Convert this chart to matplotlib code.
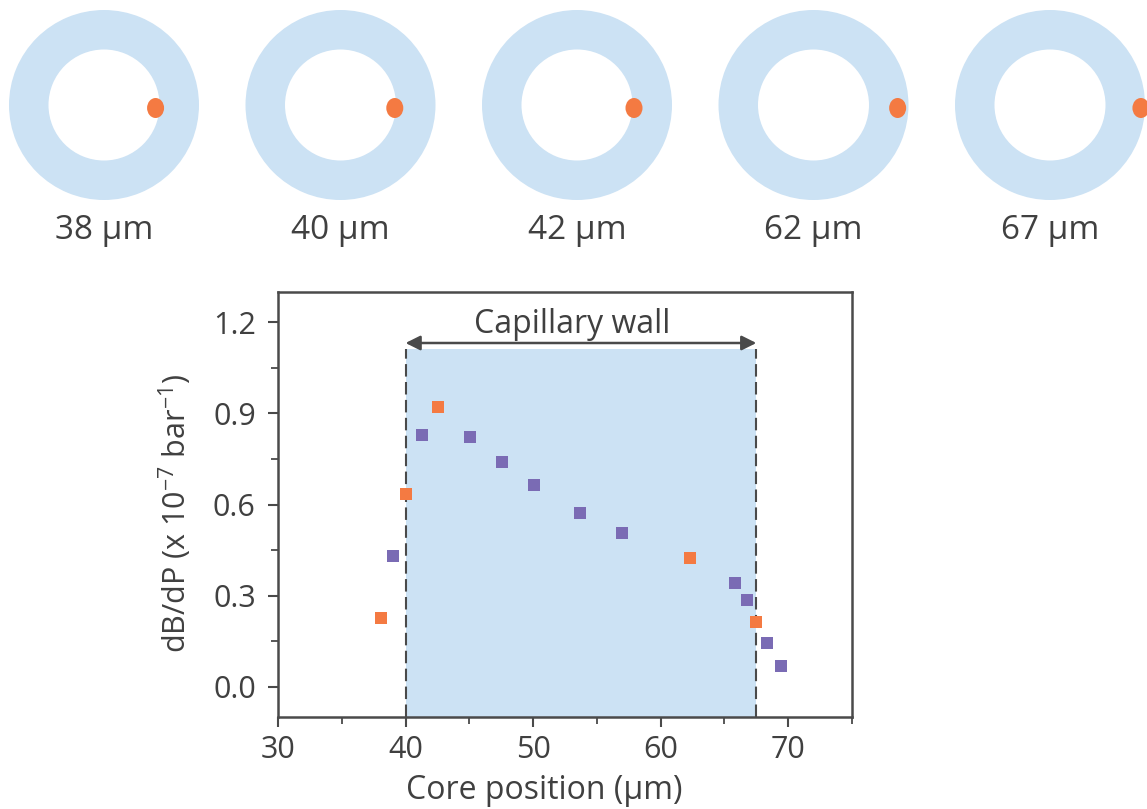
import matplotlib
matplotlib.use("Agg")
import matplotlib.pyplot as plt
from matplotlib.patches import Ellipse, Wedge
from matplotlib.ticker import MultipleLocator

plt.rcParams['font.family'] = ['Open Sans', 'DejaVu Sans']
plt.rcParams['mathtext.fontset'] = 'custom'
plt.rcParams['mathtext.rm'] = 'Open Sans'

# ---------------- data ----------------
diagram_positions = [38, 40, 42, 62, 67]          # core positions shown in top diagrams (µm)
diagram_labels = ["38 µm", "40 µm", "42 µm", "62 µm", "67 µm"]

orange_x = [38.1, 40.05, 42.55, 62.3, 67.5]
orange_y = [0.226, 0.634, 0.920, 0.423, 0.212]

purple_x = [39.0, 41.3, 45.05, 47.6, 50.1, 53.7, 56.95, 65.85, 66.8, 68.35, 69.45]
purple_y = [0.430, 0.829, 0.824, 0.739, 0.664, 0.573, 0.505, 0.340, 0.285, 0.144, 0.067]

wall_start, wall_end = 40.0, 67.5
xticks = [30, 40, 50, 60, 70]
yticks = [0.0, 0.3, 0.6, 0.9, 1.2]

# ---------------- style ----------------
ORANGE = '#F47A42'
PURPLE = '#7A6BB4'
LIGHTBLUE = '#CCE2F4'
DARK = '#4A4A4A'
TEXT = '#404040'

W, H = 1147, 809
fig = plt.figure(figsize=(W / 100, H / 100), dpi=100)

# ---------------- main scatter axes ----------------
ax = fig.add_axes([278 / W, (H - 717) / H, (852 - 278) / W, (717 - 292) / H])
ax.set_xlim(30, 75)
ax.set_ylim(-0.1, 1.3)

shade_top = 1.112
ax.fill_between([wall_start, wall_end], -0.1, shade_top, color=LIGHTBLUE, lw=0, zorder=1)
ax.vlines([wall_start, wall_end], -0.1, shade_top, colors=DARK, linestyles=(0, (6, 2.6)),
          lw=1.5, zorder=2)

ax.annotate('', xy=(wall_start, 1.132), xytext=(wall_end, 1.132),
            arrowprops=dict(arrowstyle='<|-|>', color=DARK, lw=1.8, mutation_scale=22,
                            shrinkA=0, shrinkB=0), zorder=3)
ax.text((wall_start + wall_end) / 2 - 0.7, 1.165, 'Capillary wall', ha='center',
        va='baseline', fontsize=23, color=TEXT)

ax.scatter(orange_x, orange_y, marker='s', s=72, color=ORANGE, linewidths=0, zorder=4)
ax.scatter(purple_x, purple_y, marker='s', s=72, color=PURPLE, linewidths=0, zorder=4)

ax.set_xticks(xticks)
ax.set_yticks(yticks)
ax.set_yticklabels([f"{v:.1f}" for v in yticks])
ax.xaxis.set_minor_locator(MultipleLocator(5))
ax.yaxis.set_minor_locator(MultipleLocator(0.15))
ax.tick_params(which='major', direction='out', length=7, width=1.5, color=DARK,
               labelsize=22, labelcolor=TEXT, pad=6)
ax.tick_params(which='minor', direction='out', length=5, width=1.3, color=DARK)
ax.tick_params(axis='y', which='major', pad=9)
for sp in ax.spines.values():
    sp.set_color(DARK)
    sp.set_linewidth(1.8)

ax.set_xlabel('Core position (µm)', fontsize=23, color=TEXT)
ax.xaxis.set_label_coords((544 - 278) / 574, -0.172)
ax.xaxis.label.set_verticalalignment('center')
ax.set_ylabel(r'dB/dP (x 10$^{\mathregular{-7}}$ bar$^{\mathregular{-1}}$)', fontsize=22, color=TEXT)
ax.yaxis.set_label_coords((175 - 278) / 574, (717 - 513) / 425)
ax.yaxis.label.set_verticalalignment('center')

# ---------------- top diagrams (pixel-coordinate overlay) ----------------
axd = fig.add_axes([0, 0, 1, 1])
axd.set_xlim(0, W)
axd.set_ylim(H, 0)
axd.axis('off')
axd.patch.set_visible(False)

R_OUT, R_IN = 95, 55.5
OUTER_UM = 70.0                 # radius in µm represented by the outer edge
first_cx, step, cy = 104, 236.5, 105
for i, (pos, lab) in enumerate(zip(diagram_positions, diagram_labels)):
    cx = first_cx + i * step
    axd.add_patch(Wedge((cx, cy), R_OUT, 0, 360, width=R_OUT - R_IN, color=LIGHTBLUE, lw=0))
    r_dot = R_OUT * pos / OUTER_UM
    axd.add_patch(Ellipse((cx + r_dot, cy + 3), 17, 20, color=ORANGE, lw=0))
    axd.text(cx, 230, lab, ha='center', va='center', fontsize=24, color=TEXT)

fig.savefig('out.png', dpi=100)
